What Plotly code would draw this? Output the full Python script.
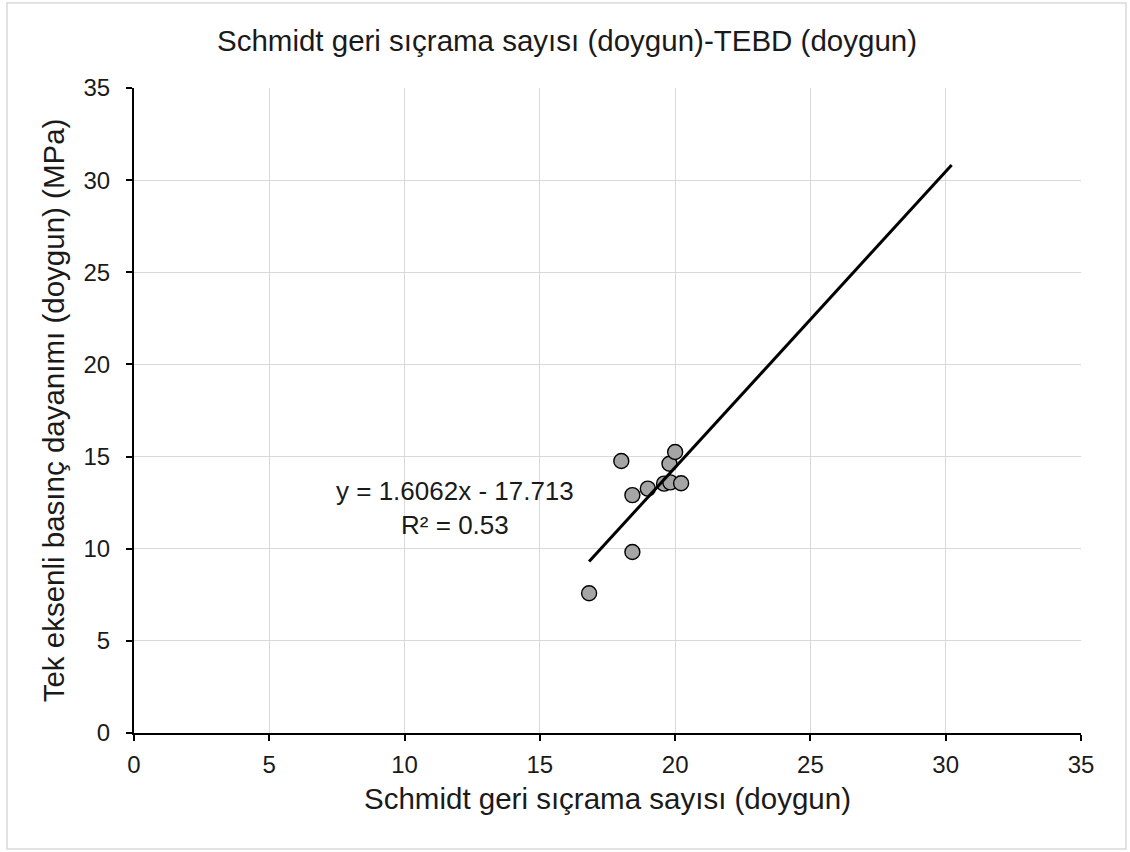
import plotly.graph_objects as go

# Data
schmidt = [16.82, 18.01, 18.42, 18.42, 18.99, 19.59, 19.79, 19.82, 20.0, 20.22]
ucs = [7.58, 14.76, 9.82, 12.91, 13.26, 13.53, 14.61, 13.60, 15.25, 13.55]
slope = 1.6062
intercept = -17.713
trend_x = [min(schmidt), max(schmidt) + 10]
trend_y = [slope * v + intercept for v in trend_x]

title_text = "Schmidt geri sıçrama sayısı (doygun)-TEBD (doygun)"
x_title = "Schmidt geri sıçrama sayısı (doygun)"
y_title = "Tek eksenli basınç dayanımı (doygun) (MPa)"
eq_text = "y = 1.6062x - 17.713<br>R² = 0.53"

FONT = "Liberation Sans, Arial, sans-serif"

fig = go.Figure()
fig.add_trace(go.Scatter(
    x=schmidt, y=ucs, mode="markers",
    marker=dict(size=15, color="#a5a5a5", line=dict(color="black", width=1.4)),
    showlegend=False, cliponaxis=False,
))
fig.add_trace(go.Scatter(
    x=trend_x, y=trend_y, mode="lines",
    line=dict(color="black", width=3), showlegend=False,
))

fig.add_annotation(
    x=11.87, y=12.2, xref="x", yref="y", text=eq_text, showarrow=False,
    align="center", font=dict(family=FONT, size=26, color="#1a1a1a"),
)

L, R, T, B = 134, 49, 88, 119
W, H = 1130, 852
pw, ph = W - L - R, H - T - B

def px2paper_x(px):
    return (px - L) / pw

def px2paper_y(py):
    return (H - B - py) / ph

fig.add_shape(type="rect", xref="paper", yref="paper",
              x0=px2paper_x(7), x1=px2paper_x(1126),
              y0=px2paper_y(849), y1=px2paper_y(3),
              line=dict(color="#d9d9d9", width=1.5), layer="below")

fig.update_layout(
    width=W, height=H,
    margin=dict(l=L, r=R, t=T, b=B, autoexpand=False),
    paper_bgcolor="white", plot_bgcolor="white",
    font=dict(family=FONT, color="#1a1a1a"),
    title=dict(text=title_text, x=567 / W, xanchor="center",
               y=1 - 41 / H, yanchor="middle", font=dict(size=29.5, family=FONT)),
)
fig.update_xaxes(
    range=[0, 35], dtick=5, tick0=0,
    showgrid=True, gridcolor="#d9d9d9", gridwidth=1.3,
    showline=True, linecolor="black", linewidth=2,
    ticks="outside", ticklen=6, tickcolor="black", tickwidth=1.5,
    tickfont=dict(size=24, family=FONT), zeroline=False, ticklabelstandoff=3,
    title=dict(text=x_title, font=dict(size=29.5, family=FONT), standoff=12),
)
fig.update_yaxes(
    range=[0, 35], dtick=5, tick0=0,
    showgrid=True, gridcolor="#d9d9d9", gridwidth=1.3,
    showline=True, linecolor="black", linewidth=2,
    ticks="outside", ticklen=6, tickcolor="black", tickwidth=1.5,
    tickfont=dict(size=24, family=FONT), zeroline=False, ticklabelstandoff=11,
    title=dict(text=y_title, font=dict(size=29.5, family=FONT), standoff=10),
)

fig.write_html("out.html")
